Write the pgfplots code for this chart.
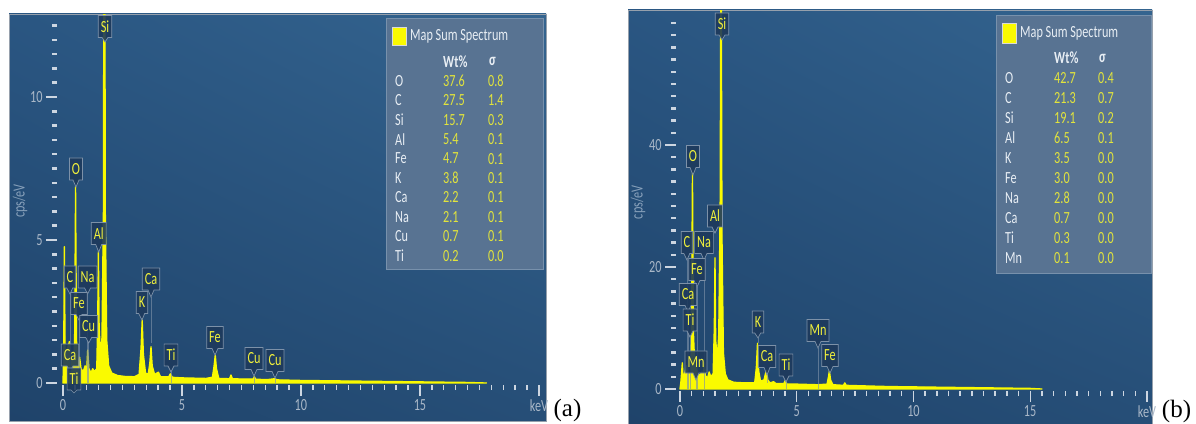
\documentclass[border=0pt]{standalone}
\usepackage{fontspec}
\setmainfont{Carlito}
\newfontfamily\uifont[FakeStretch=0.72]{Carlito}
\newfontfamily\serifont{Liberation Serif}
\usepackage{pgfplots}
\pgfplotsset{compat=1.18}
\usetikzlibrary{shapes.callouts,shadings}
\definecolor{bgUL}{RGB}{42,86,130}
\definecolor{bgUR}{RGB}{52,100,143}
\definecolor{bgLL}{RGB}{31,67,106}
\definecolor{bgLR}{RGB}{38,78,119}
\definecolor{framec}{RGB}{150,160,172}
\definecolor{tickc}{RGB}{205,214,225}
\definecolor{ticklab}{RGB}{170,184,200}
\definecolor{ylabc}{RGB}{135,160,186}
\definecolor{specy}{RGB}{250,250,0}
\definecolor{labfill}{RGB}{30,58,92}
\definecolor{labdraw}{RGB}{125,145,168}
\definecolor{laby}{RGB}{240,240,60}
\definecolor{legfill}{RGB}{88,115,146}
\definecolor{legdraw}{RGB}{120,145,172}
\definecolor{legw}{RGB}{232,238,244}
\definecolor{legy}{RGB}{226,228,60}
\newcommand\uif{\uifont\fontsize{17pt}{17pt}\selectfont}
\tikzset{plabel/.style={rectangle callout, fill=labfill, fill opacity=0.9, text opacity=1,
  draw=labdraw, line width=0.7pt, text=laby, font=\uif, inner xsep=2.5pt, inner ysep=0pt,
  minimum height=22pt, callout pointer width=6pt}}
\newcommand\plab[5]{%
  \draw[labdraw, opacity=0.65, line width=0.6pt] (#2,#4) -- (#2,#5);
  \node[plabel, callout absolute pointer={(#2,#4)}] at (#2,#3) {#1};}
\pgfplotsset{spec/.style={
  scale only axis, anchor=south west,
  axis line style={draw=none},
  tick pos=left, tick align=outside,
  xtick={0,5,10,15,20}, xticklabels={0,5,10,15,keV},
  minor xtick={0,0.5,...,20},
  major tick length=11pt, minor tick length=5pt,
  every x tick/.append style={tickc, line width=1.4pt},
  every y tick/.append style={tickc, line width=2.5pt},
  tick label style={font=\uif, text=ticklab},
  /pgf/number format/assume math mode=true,
  ylabel={cps/eV},
}}
\begin{document}
\begin{tikzpicture}
\useasboundingbox (0,0) rectangle (1196pt,423pt);
\begin{scope}[x=1pt,y=1pt]
\shade[upper left=bgUL, upper right=bgUR, lower left=bgLL, lower right=bgLR] (9,2) rectangle (546,409);
\draw[framec, line width=0.8pt] (9,2) rectangle (546,409);
\shade[upper left=bgUL, upper right=bgUR, lower left=bgLL, lower right=bgLR] (628,0) rectangle (1152,413);
\draw[framec, line width=0.8pt] (628,-1) rectangle (1152,413);
\end{scope}

\begin{axis}[spec, at={(57pt,38pt)}, width=487.9pt, height=370.9pt,
  xmin=-0.25, xmax=20.25, ymin=-0.07, ymax=12.9,
  ytick={0,5,10}, minor ytick={0,0.5,...,12.5},
  ylabel style={at={(axis description cs:-0.0758,0.496)}, anchor=center, font=\uif, text=ylabc}]
\addplot[draw=specy, fill=specy, line width=1.3pt, line join=round, mark=none] coordinates {
(0,0) (0.03,0.9) (0.06,4.77) (0.09,1.2) (0.15,1.0) (0.22,1.3) (0.27,1.45) (0.32,1.1) (0.37,0.8) (0.45,0.6) (0.49,1.5) (0.53,6.86) (0.57,1.5) (0.63,0.6) (0.70,0.9) (0.76,0.5) (0.85,0.4) (0.93,0.6) (1.00,0.5) (1.04,1.15) (1.09,0.5) (1.18,0.35) (1.25,0.5) (1.32,0.4) (1.42,0.5) (1.46,2.2) (1.49,4.6) (1.52,2.0) (1.58,0.9) (1.64,1.6) (1.70,6) (1.74,25) (1.78,6) (1.84,1.5) (1.92,0.6) (2.05,0.35) (2.3,0.26) (2.6,0.23) (3.0,0.22) (3.2,0.3) (3.28,1.2) (3.33,2.2) (3.38,1.0) (3.47,0.35) (3.58,0.3) (3.65,0.7) (3.70,1.27) (3.75,0.6) (3.85,0.3) (4.01,0.38) (4.1,0.22) (4.45,0.22) (4.51,0.32) (4.6,0.2) (5.0,0.18) (5.5,0.17) (6.0,0.16) (6.28,0.2) (6.35,0.6) (6.40,0.98) (6.45,0.5) (6.55,0.16) (7.0,0.15) (7.06,0.28) (7.12,0.15) (7.5,0.14) (8.0,0.14) (8.04,0.22) (8.1,0.13) (8.6,0.12) (8.9,0.15) (9.0,0.11) (10,0.09) (11,0.08) (12,0.07) (13,0.06) (14,0.05) (15,0.04) (16,0.03) (17,0.02) (17.8,0)
} \closedcycle;
\end{axis}

\begin{axis}[spec, at={(676pt,32pt)}, width=475.6pt, height=380.8pt,
  xmin=-0.17, xmax=20.2, ymin=-0.33, ymax=62.1,
  ytick={0,20,40}, minor ytick={0,2,...,60},
  ylabel style={at={(axis description cs:-0.0799,0.496)}, anchor=center, font=\uif, text=ylabc}]
\addplot[draw=specy, fill=specy, line width=1.3pt, line join=round, mark=none] coordinates {
(0,0) (0.04,1.2) (0.10,4.3) (0.14,1.5) (0.20,2.5) (0.28,3.8) (0.34,2.5) (0.40,2.0) (0.45,3.0) (0.49,9) (0.535,35.5) (0.58,9) (0.63,4) (0.70,3.5) (0.78,2.5) (0.86,2.2) (0.93,2.8) (1.00,2.5) (1.04,4.3) (1.09,2.2) (1.18,1.8) (1.25,2.8) (1.32,2.0) (1.42,2.5) (1.47,10) (1.50,21.5) (1.53,8) (1.60,5) (1.66,9) (1.72,30) (1.76,80) (1.80,25) (1.86,6) (1.94,2.5) (2.05,1.5) (2.3,1.1) (2.8,1.0) (3.2,1.0) (3.27,3.5) (3.32,7.5) (3.37,3) (3.45,1.3) (3.6,1.5) (3.66,2.5) (3.70,3.0) (3.76,1.5) (3.85,1.0) (4.01,1.2) (4.1,0.9) (4.45,0.9) (4.51,1.4) (4.58,0.8) (5.0,0.8) (5.9,0.7) (6.3,0.8) (6.36,2.0) (6.40,3.0) (6.45,1.5) (6.55,0.7) (7.0,0.6) (7.06,1.0) (7.12,0.6) (8,0.5) (9,0.4) (10,0.35) (11,0.3) (12,0.25) (13,0.2) (14,0.15) (15,0.1) (15.5,0)
} \closedcycle;
\end{axis}

\begin{scope}[x=1pt,y=1pt]
% peak labels (a)
\plab{Si}{105}{396.5}{381}{381}
\plab{O}{76}{254}{236}{236}
\plab{Al}{98.7}{189.5}{171}{171}
\plab{C}{70}{146}{129}{40}
\plab{Na}{87.6}{146}{129}{40}
\plab{Fe}{79}{119.5}{103}{40}
\plab{Cu}{88.7}{96.5}{80}{40}
\plab{Ca}{70}{68}{51}{40}
\plab{Ti}{74}{44}{30}{30}
\plab{K}{142}{120.5}{103}{103}
\plab{Ca}{151}{144}{126}{80}
\plab{Ti}{171}{68}{51}{40}
\plab{Fe}{215}{85.5}{68}{68}
\plab{Cu}{254}{64.5}{47}{40}
\plab{Cu}{275}{62.5}{45}{40}
% peak labels (b)
\plab{Si}{722}{399}{383}{383}
\plab{O}{693}{266.5}{248}{248}
\plab{Al}{715}{207}{190}{190}
\plab{C}{687}{180.5}{163}{34}
\plab{Na}{704}{180.5}{163}{34}
\plab{Fe}{697}{153.5}{136}{34}
\plab{Ca}{688}{128.5}{111}{34}
\plab{Ti}{690}{103}{86}{34}
\plab{Mn}{696}{61}{43}{34}
\plab{K}{758}{101}{85}{80}
\plab{Ca}{767}{66.5}{48}{40}
\plab{Ti}{786}{58}{41}{34}
\plab{Mn}{818}{92.5}{75}{34}
\plab{Fe}{830}{67.5}{50}{50}

% legend table (a)
\draw[fill=legfill, draw=legdraw, line width=0.8pt] (386,154) rectangle (543,405);
\draw[fill=specy, draw=white!70!gray, line width=0.5pt] (392,378) rectangle (406,396);
\node[anchor=west, inner sep=0pt, text=legw, font=\uif] at (410,387) {Map Sum Spectrum};
\node[anchor=west, inner sep=0pt, text=legw, font=\uif\bfseries] at (443,361.3) {Wt\%};
\node[anchor=west, inner sep=0pt, text=legw, font=\uif\bfseries] at (489,361.3) {σ};
\foreach \e/\w/\s [count=\i from 0] in {O/37.6/0.8, C/27.5/1.4, Si/15.7/0.3, Al/5.4/0.1, Fe/4.7/0.1, K/3.8/0.1, Ca/2.2/0.1, Na/2.1/0.1, Cu/0.7/0.1, Ti/0.2/0.0}{
  \node[anchor=west, inner sep=0pt, text=legw, font=\uif] at (395,{342-19.4*\i}) {\e};
  \node[anchor=west, inner sep=0pt, text=legy, font=\uif] at (443,{342-19.4*\i}) {\w};
  \node[anchor=west, inner sep=0pt, text=legy, font=\uif] at (488,{342-19.4*\i}) {\s};
}
% legend table (b)
\draw[fill=legfill, draw=legdraw, line width=0.8pt] (996,150) rectangle (1151,408);
\draw[fill=specy, draw=white!70!gray, line width=0.5pt] (1002,380) rectangle (1016,400);
\node[anchor=west, inner sep=0pt, text=legw, font=\uif] at (1020,390) {Map Sum Spectrum};
\node[anchor=west, inner sep=0pt, text=legw, font=\uif\bfseries] at (1054,365) {Wt\%};
\node[anchor=west, inner sep=0pt, text=legw, font=\uif\bfseries] at (1099,365) {σ};
\foreach \e/\w/\s [count=\i from 0] in {O/42.7/0.4, C/21.3/0.7, Si/19.1/0.2, Al/6.5/0.1, K/3.5/0.0, Fe/3.0/0.0, Na/2.8/0.0, Ca/0.7/0.0, Ti/0.3/0.0, Mn/0.1/0.0}{
  \node[anchor=west, inner sep=0pt, text=legw, font=\uif] at (1005,{345-20*\i}) {\e};
  \node[anchor=west, inner sep=0pt, text=legy, font=\uif] at (1054,{345-20*\i}) {\w};
  \node[anchor=west, inner sep=0pt, text=legy, font=\uif] at (1098,{345-20*\i}) {\s};
}
% panel letters
\node[font=\serifont\fontsize{25pt}{25pt}\selectfont, inner sep=0pt] at (567.5,13) {(a)};
\node[font=\serifont\fontsize{25pt}{25pt}\selectfont, inner sep=0pt] at (1176.5,12) {(b)};
\end{scope}
\end{tikzpicture}
\end{document}
